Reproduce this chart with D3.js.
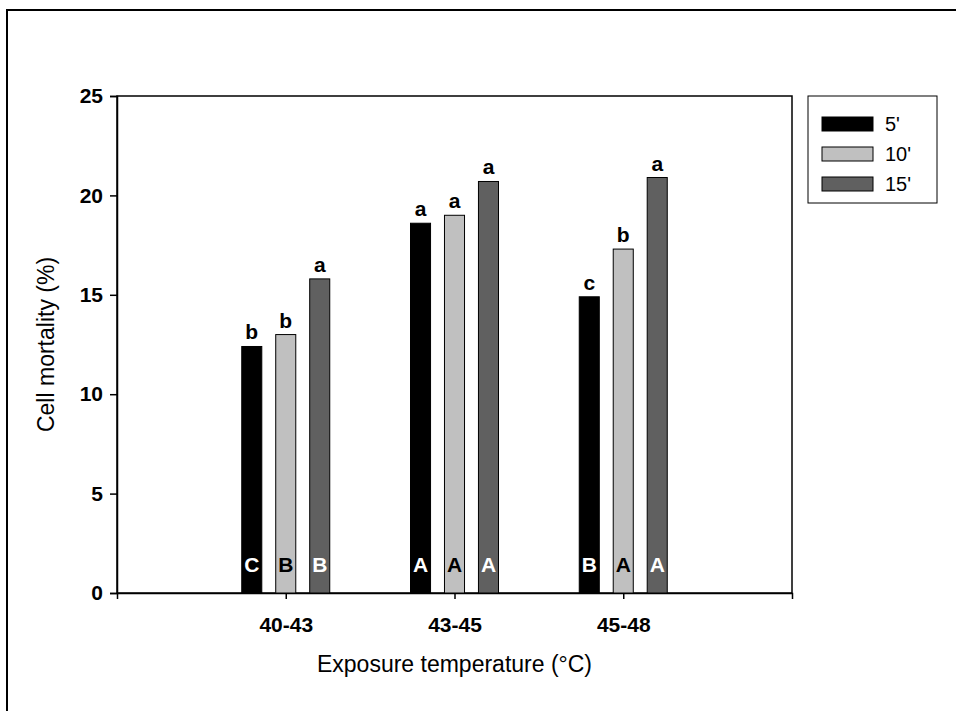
<!DOCTYPE html>
<html lang="en">
<head>
<meta charset="utf-8" />
<title>Cell mortality</title>
<style>
  * { margin: 0; padding: 0; }
  body { background: #fff; font-family: "Liberation Sans", Arial, sans-serif; }
  svg { display: block; }
  .tick text { font-family: "Liberation Sans", Arial, sans-serif; font-size: 21px; font-weight: bold; fill: #000; }
  .axisTitle { font-size: 23px; fill: #000; }
  .sig { font-size: 21px; font-weight: bold; }
</style>
</head>
<body>
<script src="https://d3js.org/d3.v7.min.js"></script>
<div id="chart"></div>
<script>
  // data
  var categories = ["40-43", "43-45", "45-48"];
  var seriesNames = ["5'", "10'", "15'"];
  var v5 = [12.4, 18.6, 14.9];
  var v10 = [13.0, 19.0, 17.3];
  var v15 = [15.8, 20.7, 20.9];
  var lowerLetters5 = ["b", "a", "c"];
  var lowerLetters10 = ["b", "a", "b"];
  var lowerLetters15 = ["a", "a", "a"];
  var upperLetters5 = ["C", "A", "B"];
  var upperLetters10 = ["B", "A", "A"];
  var upperLetters15 = ["B", "A", "A"];
  var yTicks = [0, 5, 10, 15, 20, 25];

  var fills = ["#000000", "#c0c0c0", "#606060"];
  var innerColors = ["#ffffff", "#000000", "#ffffff"];

  var W = 956, H = 711;
  var plotL = 117, plotR = 792, plotT = 96, plotB = 593;

  var svg = d3.select("#chart").append("svg")
      .attr("width", W).attr("height", H);

  // outer frame (runs off the right and bottom edges)
  svg.append("rect")
      .attr("x", 7).attr("y", 10)
      .attr("width", 980).attr("height", 740)
      .attr("fill", "none").attr("stroke", "#000").attr("stroke-width", 2);

  var x = d3.scalePoint().domain(categories).range([plotL, plotR]).padding(1);
  var y = d3.scaleLinear().domain([0, 25]).range([plotB, plotT]);

  // plot frame
  svg.append("rect")
      .attr("x", plotL).attr("y", plotT)
      .attr("width", plotR - plotL).attr("height", plotB - plotT)
      .attr("fill", "none").attr("stroke", "#000").attr("stroke-width", 1.5);

  var yAxis = svg.append("g")
      .attr("transform", "translate(" + plotL + ",0)")
      .call(d3.axisLeft(y).tickValues(yTicks).tickSize(7).tickPadding(7));
  yAxis.select(".domain").attr("stroke-width", 1.5);
  yAxis.selectAll(".tick line").attr("stroke-width", 1.5);

  var xAxis = svg.append("g")
      .attr("transform", "translate(0," + plotB + ")")
      .call(d3.axisBottom(x).tickSize(6).tickPadding(18));
  xAxis.select(".domain").attr("stroke-width", 1.5);
  xAxis.selectAll(".tick line").attr("stroke-width", 1.5);

  var series = [
    { name: seriesNames[0], values: v5, low: lowerLetters5, up: upperLetters5 },
    { name: seriesNames[1], values: v10, low: lowerLetters10, up: upperLetters10 },
    { name: seriesNames[2], values: v15, low: lowerLetters15, up: upperLetters15 }
  ];

  var offset = d3.scaleBand().domain([0, 1, 2]).range([-44, 44]).paddingInner(0.41);
  var bw = offset.bandwidth();

  series.forEach(function(s, si) {
    var g = svg.append("g");
    g.selectAll("rect")
      .data(s.values)
      .enter().append("rect")
        .attr("x", function(d, i) { return x(categories[i]) + offset(si); })
        .attr("y", function(d) { return y(d); })
        .attr("width", bw)
        .attr("height", function(d) { return y(0) - y(d); })
        .attr("fill", fills[si])
        .attr("stroke", "#000")
        .attr("stroke-width", 1);
    g.selectAll("text.low")
      .data(s.values)
      .enter().append("text")
        .attr("class", "sig low")
        .attr("x", function(d, i) { return x(categories[i]) + offset(si) + bw / 2; })
        .attr("y", function(d) { return y(d) - 7; })
        .attr("text-anchor", "middle")
        .attr("fill", "#000")
        .text(function(d, i) { return s.low[i]; });
    g.selectAll("text.up")
      .data(s.values)
      .enter().append("text")
        .attr("class", "sig up")
        .attr("x", function(d, i) { return x(categories[i]) + offset(si) + bw / 2; })
        .attr("y", y(0) - 21)
        .attr("text-anchor", "middle")
        .attr("fill", innerColors[si])
        .text(function(d, i) { return s.up[i]; });
  });

  // axis titles
  svg.append("text")
      .attr("class", "axisTitle")
      .attr("x", (plotL + plotR) / 2)
      .attr("y", 672)
      .attr("text-anchor", "middle")
      .text("Exposure temperature (°C)");
  svg.append("text")
      .attr("class", "axisTitle")
      .attr("transform", "translate(54," + (plotT + plotB) / 2 + ") rotate(-90)")
      .attr("text-anchor", "middle")
      .text("Cell mortality (%)");

  // legend
  var legend = svg.append("g").attr("transform", "translate(808,96)");
  legend.append("rect")
      .attr("width", 129).attr("height", 107)
      .attr("fill", "#fff").attr("stroke", "#000").attr("stroke-width", 1);
  var items = legend.selectAll("g.item")
      .data(series)
      .enter().append("g")
        .attr("class", "item")
        .attr("transform", function(d, i) { return "translate(14," + (21 + i * 30) + ")"; });
  items.append("rect")
      .attr("width", 51).attr("height", 14)
      .attr("fill", function(d, i) { return fills[i]; })
      .attr("stroke", "#000").attr("stroke-width", 1);
  items.append("text")
      .attr("x", 63).attr("y", 14)
      .style("font-size", "20px")
      .text(function(d) { return d.name; });
</script>
</body>
</html>
